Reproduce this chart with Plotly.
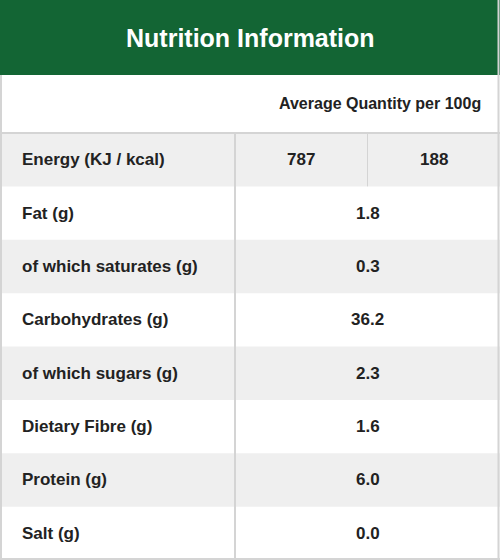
import plotly.graph_objects as go

title = "Nutrition Information"
subheader = "Average Quantity per 100g"
nutrients = ["Energy (KJ / kcal)", "Fat (g)", "of which saturates (g)", "Carbohydrates (g)",
             "of which sugars (g)", "Dietary Fibre (g)", "Protein (g)", "Salt (g)"]
values = ["1.8", "0.3", "36.2", "2.3", "1.6", "6.0", "0.0"]
energy = ["787", "188"]

W, H = 500, 560
top = 133
rh = (H - top) / len(nutrients)
col1 = 235
green = "#136534"
grey = "#efefef"
line = "#d4d4d4"
font = dict(family="Liberation Sans, Arial, sans-serif", size=17, color="#222222")

shapes = []
ann = []
shapes.append(dict(type="rect", x0=0, x1=W, y0=0, y1=75, fillcolor=green, line_width=0, layer="below"))
ann.append(dict(x=W / 2, y=38, text="<b>" + title + "</b>", showarrow=False,
                font=dict(family=font["family"], size=25, color="white")))
ann.append(dict(x=483, y=103, text="<b>" + subheader + "</b>", showarrow=False, xanchor="right",
                font=dict(family=font["family"], size=16, color="#222222")))

for i, name in enumerate(nutrients):
    y0 = top + i * rh
    if i % 2 == 0:
        shapes.append(dict(type="rect", x0=0, x1=W, y0=y0, y1=y0 + rh, fillcolor=grey,
                           line_width=0, layer="below"))
    ann.append(dict(x=20, y=y0 + rh / 2, text="<b>" + name + "</b>", showarrow=False,
                    xanchor="left", font=font))
    if i == 0:
        mid = (col1 + W) / 2
        for j, v in enumerate(energy):
            cx = col1 + (mid - col1) / 2 if j == 0 else mid + (W - mid) / 2
            ann.append(dict(x=cx, y=y0 + rh / 2, text="<b>" + v + "</b>", showarrow=False, font=font))
        shapes.append(dict(type="line", x0=mid, x1=mid, y0=y0, y1=y0 + rh, line=dict(color=line, width=1)))
    else:
        ann.append(dict(x=(col1 + W) / 2, y=y0 + rh / 2, text="<b>" + values[i - 1] + "</b>",
                        showarrow=False, font=font))

shapes.append(dict(type="line", x0=0, x1=W, y0=top, y1=top, line=dict(color=line, width=2)))
shapes.append(dict(type="line", x0=col1, x1=col1, y0=top, y1=H, line=dict(color=line, width=2)))
shapes.append(dict(type="line", x0=1, x1=1, y0=75, y1=H, line=dict(color=line, width=2)))
shapes.append(dict(type="line", x0=W - 1.5, x1=W - 1.5, y0=0, y1=H, line=dict(color=line, width=2)))
shapes.append(dict(type="line", x0=0, x1=W, y0=H - 1, y1=H - 1, line=dict(color=line, width=2)))

fig = go.Figure()
fig.update_layout(width=W, height=H, margin=dict(l=0, r=0, t=0, b=0),
                  plot_bgcolor="white", paper_bgcolor="white", shapes=shapes, annotations=ann,
                  xaxis=dict(range=[0, W], visible=False, fixedrange=True),
                  yaxis=dict(range=[H, 0], visible=False, fixedrange=True),
                  showlegend=False)
fig.write_html("out.html", config={"displayModeBar": False},
               post_script="document.body.style.margin='0';document.body.style.overflow='hidden';")
